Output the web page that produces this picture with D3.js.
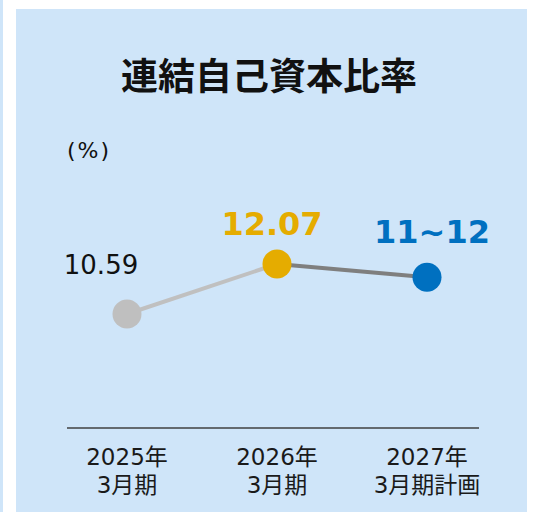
<!DOCTYPE html>
<html>
<head>
<meta charset="utf-8">
<script src="https://cdn.jsdelivr.net/npm/d3@7"></script>
<style>
  body { margin: 0; background: #fff; }
  svg { display: block; }
</style>
</head>
<body>
<script>
// data
const categories = ["2025年3月期", "2026年3月期", "2027年3月期計画"];
const catLine1 = ["2025年", "2026年", "2027年"];
const catLine2 = ["3月期", "3月期", "3月期計画"];
const values = [10.59, 12.07, 11.68]; // plan point drawn at ~11.7
const valueLabels = ["10.59", "12.07", "11~12"];

var width = 535;
var height = 512;
var panelColor = "#cfe5f9";
var font = "'DejaVu Sans', 'Noto Sans CJK JP', sans-serif";
var cjkFont = "'Noto Sans CJK JP', sans-serif";

var pointColors = ["#bfbfbf", "#e5ac00", "#0070c0"];
var segColors = ["#c0c0c0", "#7f7f7f"];
var labelStyle = [
  { dx: -26, dy: -40, size: 26, weight: "normal", color: "#111" },
  { dx: -5, dy: -29, size: 32, weight: "bold", color: "#e5ac00" },
  { dx: 5, dy: -34, size: 32, weight: "bold", color: "#0070c0" }
];

var svg = d3
  .select("body")
  .append("svg")
  .attr("width", width)
  .attr("height", height);

// background: thin strip on the left, then the panel
svg.append("rect").attr("x", 0).attr("y", 0).attr("width", 3).attr("height", height).attr("fill", panelColor);
svg.append("rect").attr("x", 16).attr("y", 9).attr("width", 511).attr("height", height - 9).attr("fill", panelColor);

var x = d3.scalePoint().domain(categories).range([127, 427]);
var y = d3.scaleLinear().domain([9, 13]).range([367.7, 232.6]);

// title
svg
  .append("text")
  .attr("x", 269)
  .attr("y", 90)
  .attr("text-anchor", "middle")
  .style("font-family", cjkFont)
  .style("font-weight", "bold")
  .style("font-size", "37px")
  .attr("fill", "#111")
  .text("連結自己資本比率");

// unit
svg
  .append("text")
  .attr("x", 67)
  .attr("y", 158)
  .style("font-family", font)
  .style("font-size", "22px")
  .style("letter-spacing", "2px")
  .attr("fill", "#111")
  .text("(%)");

// baseline
svg
  .append("line")
  .attr("x1", 67)
  .attr("x2", 479)
  .attr("y1", 428)
  .attr("y2", 428)
  .attr("stroke", "#404040")
  .attr("stroke-width", 1.5);

// category labels
var cats = svg
  .selectAll("g.cat")
  .data(categories)
  .enter()
  .append("g")
  .attr("class", "cat")
  .attr("transform", function(d) {
    return "translate(" + x(d) + ",0)";
  });

cats
  .append("text")
  .attr("y", 465)
  .attr("text-anchor", "middle")
  .style("font-family", font)
  .style("font-size", "23px")
  .attr("fill", "#1a1a1a")
  .text(function(d, i) {
    return catLine1[i];
  });

cats
  .append("text")
  .attr("y", 493)
  .attr("text-anchor", "middle")
  .style("font-family", font)
  .style("font-size", "23px")
  .attr("fill", "#1a1a1a")
  .text(function(d, i) {
    return catLine2[i];
  });

// line segments
var pts = categories.map(function(c, i) {
  return { cat: c, value: values[i] };
});

svg
  .selectAll("line.seg")
  .data(d3.pairs(pts))
  .enter()
  .append("line")
  .attr("class", "seg")
  .attr("x1", function(d) { return x(d[0].cat); })
  .attr("y1", function(d) { return y(d[0].value); })
  .attr("x2", function(d) { return x(d[1].cat); })
  .attr("y2", function(d) { return y(d[1].value); })
  .attr("stroke", function(d, i) { return segColors[i]; })
  .attr("stroke-width", 4);

// points
svg
  .selectAll("circle")
  .data(pts)
  .enter()
  .append("circle")
  .attr("cx", function(d) { return x(d.cat); })
  .attr("cy", function(d) { return y(d.value); })
  .attr("r", 14.5)
  .attr("fill", function(d, i) { return pointColors[i]; });

// value labels
svg
  .selectAll("text.val")
  .data(pts)
  .enter()
  .append("text")
  .attr("class", "val")
  .attr("x", function(d, i) { return x(d.cat) + labelStyle[i].dx; })
  .attr("y", function(d, i) { return y(d.value) + labelStyle[i].dy; })
  .attr("text-anchor", "middle")
  .style("font-family", font)
  .style("font-size", function(d, i) { return labelStyle[i].size + "px"; })
  .style("font-weight", function(d, i) { return labelStyle[i].weight; })
  .attr("fill", function(d, i) { return labelStyle[i].color; })
  .text(function(d, i) { return valueLabels[i]; });
</script>
</body>
</html>
